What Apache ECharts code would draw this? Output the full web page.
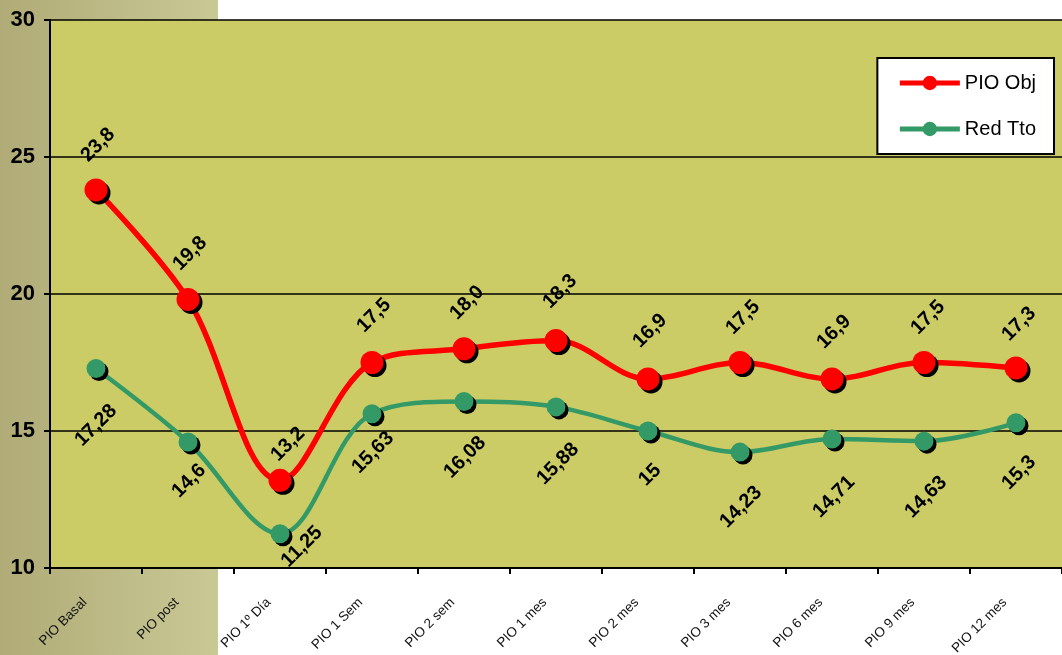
<!DOCTYPE html>
<html>
<head>
<meta charset="utf-8">
<script src="https://cdn.jsdelivr.net/npm/echarts@6/dist/echarts.min.js"></script>
<style>
  html, body { margin: 0; padding: 0; background: #fff; }
  #chart { width: 1062px; height: 655px; }
</style>
</head>
<body>
<div id="chart"></div>
<script>
// Visit labels along the category axis
const categories = ['PIO Basal', 'PIO post', 'PIO 1º Día', 'PIO 1 Sem', 'PIO 2 sem', 'PIO 1 mes',
                    'PIO 2 mes', 'PIO 3 mes', 'PIO 6 mes', 'PIO 9 mes', 'PIO 12 mes'];
// Target pressure (PIO Obj) and treatment reduction (Red Tto)
const pioObj = [23.8, 19.8, 13.2, 17.5, 18.0, 18.3, 16.9, 17.5, 16.9, 17.5, 17.3];
const redTto = [17.28, 14.6, 11.25, 15.63, 16.08, 15.88, 15, 14.23, 14.71, 14.63, 15.3];
// Value axis range and step
const yMin = 10, yMax = 30, yStep = 5;

// Screen displacement of each value label from its point, in px (style only)
const shiftObj = [[2, -45], [2, -46], [8, -36], [2, -47], [3, -46], [4, -49], [2, -48], [3, -45], [2, -47], [4, -45], [3, -44]];
const shiftTto = [[0, 57], [1, 39], [22, 13], [1, 39], [1, 56], [2, 57], [2, 44], [1, 55], [2, 58], [2, 56], [3, 50]];

const LABEL_ROT = 45;
// zrender rotates a label's offset around its anchor, so undo the rotation here
function unrotate(d) {
  const a = LABEL_ROT * Math.PI / 180, c = Math.cos(a), s = Math.sin(a);
  return [d[0] * c - d[1] * s, d[0] * s + d[1] * c];
}
const fmtObj = v => v.toFixed(1).replace('.', ',');
const fmtTto = v => String(v).replace('.', ',');

function buildData(values, shifts, fmt) {
  return values.map((v, i) => ({
    value: v,
    label: { offset: unrotate(shifts[i]), formatter: fmt(v) }
  }));
}

const labelBase = {
  show: true,
  position: 'inside',
  rotate: LABEL_ROT,
  align: 'center',
  verticalAlign: 'middle',
  fontFamily: 'Liberation Sans, Arial, sans-serif',
  fontSize: 20,
  fontWeight: 'bold',
  color: '#000'
};
const markShadow = { shadowColor: '#000', shadowBlur: 0, shadowOffsetX: 3, shadowOffsetY: 3 };

const chart = echarts.init(document.getElementById('chart'), null, { renderer: 'canvas' });
chart.setOption({
  animation: false,
  backgroundColor: new echarts.graphic.LinearGradient(0, 0, 1, 0, [
    { offset: 0, color: '#b0ab77' },
    { offset: 0.2052, color: '#c9c995' },
    { offset: 0.2053, color: '#ffffff' },
    { offset: 1, color: '#ffffff' }
  ]),
  textStyle: { fontFamily: 'Liberation Sans, Arial, sans-serif' },
  grid: {
    left: 50, right: 0, top: 20, bottom: 87,
    outerBoundsMode: 'none',
    containLabel: false,
    show: true, backgroundColor: '#cccc66', borderWidth: 0
  },
  legend: {
    orient: 'vertical',
    right: 8, top: 58,
    backgroundColor: '#ffffff',
    borderColor: '#000', borderWidth: 2,
    padding: [15, 18, 15, 20],
    itemGap: 26,
    itemWidth: 60, itemHeight: 18,
    textStyle: { fontSize: 20, color: '#000' },
    data: [
      { name: 'PIO Obj', itemStyle: { color: '#ff0000', shadowOffsetX: 0, shadowOffsetY: 0 }, lineStyle: { color: '#ff0000', width: 5 } },
      { name: 'Red Tto', itemStyle: { color: '#339966', shadowOffsetX: 0, shadowOffsetY: 0 }, lineStyle: { color: '#339966', width: 5 } }
    ]
  },
  xAxis: {
    type: 'category',
    data: categories,
    boundaryGap: true,
    axisLine: { show: true, lineStyle: { color: '#000', width: 2 } },
    axisTick: { show: true, alignWithLabel: false, length: 6, lineStyle: { color: '#000', width: 2 } },
    axisLabel: {
      interval: 0, rotate: 45, margin: 21, padding: [0, 16, 0, 0],
      fontSize: 13.5, color: '#111'
    },
    splitLine: { show: false }
  },
  yAxis: {
    type: 'value',
    min: yMin, max: yMax, interval: yStep,
    axisLine: { show: true, lineStyle: { color: '#000', width: 2 } },
    axisTick: { show: true, length: 6, lineStyle: { color: '#000', width: 2 } },
    axisLabel: { fontSize: 22, fontWeight: 'bold', color: '#000', margin: 15 },
    splitLine: { show: true, lineStyle: { color: '#000', width: 1.5 } }
  },
  series: [
    {
      name: 'Red Tto',
      type: 'line',
      smooth: 0.35,
      symbol: 'circle',
      symbolSize: 19,
      showAllSymbol: true,
      z: 3,
      lineStyle: { color: '#339966', width: 4.5 },
      itemStyle: Object.assign({ color: '#339966' }, markShadow),
      label: labelBase,
      emphasis: { disabled: true },
      data: buildData(redTto, shiftTto, fmtTto)
    },
    {
      name: 'PIO Obj',
      type: 'line',
      smooth: 0.35,
      symbol: 'circle',
      symbolSize: 23,
      showAllSymbol: true,
      z: 4,
      lineStyle: { color: '#ff0000', width: 5.5 },
      itemStyle: Object.assign({ color: '#ff0000' }, markShadow),
      label: labelBase,
      emphasis: { disabled: true },
      data: buildData(pioObj, shiftObj, fmtObj)
    }
  ]
});
</script>
</body>
</html>
